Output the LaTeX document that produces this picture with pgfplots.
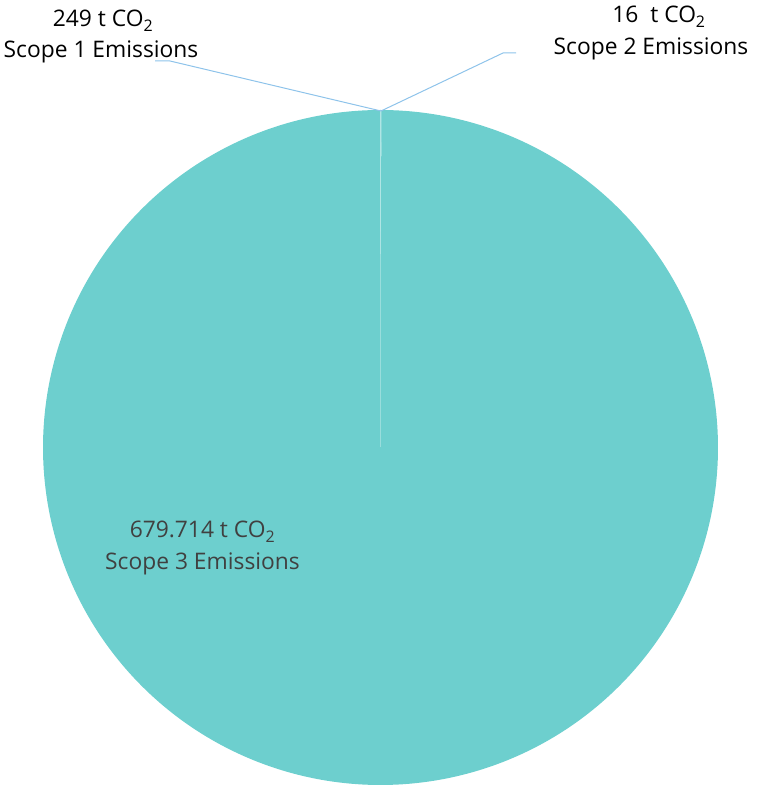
\documentclass[border=0pt]{standalone}
\usepackage{pgfplots}
\pgfplotsset{compat=1.18}
\usepackage{pgfplotstable}
\usepackage{fontspec}
\setmainfont{Open Sans}
\definecolor{piecol}{HTML}{6DCFCE}
\definecolor{leader}{HTML}{8EC3EA}
\definecolor{lbl}{HTML}{404040}

\pgfplotstableread{
scope value
1 249
2 16
3 679714
}\datatable
\pgfplotstablegetelem{0}{value}\of\datatable \let\vA\pgfplotsretval
\pgfplotstablegetelem{1}{value}\of\datatable \let\vB\pgfplotsretval
\pgfplotstablegetelem{2}{value}\of\datatable \let\vC\pgfplotsretval
\edef\aA{\fpeval{round(90-360*\vA/(\vA+\vB+\vC),5)}}
\edef\aB{\fpeval{round(\aA-360*\vB/(\vA+\vB+\vC),5)}}
\def\cx{380.5}
\def\cy{339.5}
\def\rr{337.5}

\begin{document}
\begin{tikzpicture}
\begin{axis}[
  width=756pt, height=787pt, scale only axis,
  xmin=0, xmax=756, ymin=0, ymax=787,
  hide axis, clip=false, anchor=south west, at={(0,0)},
]
% Scope 1
\addplot[fill=piecol, draw=none, domain=\aA:90, samples=5]
  ({\cx+\rr*cos(x)},{\cy+\rr*sin(x)}) -- (axis cs:\cx,\cy) -- cycle;
% Scope 2
\addplot[fill=piecol, draw=none, domain=\aB:\aA, samples=5]
  ({\cx+\rr*cos(x)},{\cy+\rr*sin(x)}) -- (axis cs:\cx,\cy) -- cycle;
% Scope 3
\addplot[fill=piecol, draw=none, domain=-270:\aB, samples=361]
  ({\cx+\rr*cos(x)},{\cy+\rr*sin(x)}) -- (axis cs:\cx,\cy) -- cycle;
% slice borders
\draw[white, opacity=0.3, line width=1pt] (axis cs:\cx,\cy) -- (axis cs:\cx,{\cy+\rr});
% leader lines
\draw[leader, line width=1pt] (axis cs:155,726) -- (axis cs:170,726) -- (axis cs:381,676);
\draw[leader, line width=1pt] (axis cs:516,734) -- (axis cs:503,734) -- (axis cs:381,676);
% labels
\node[anchor=base, font=\fontsize{22.8}{27}\selectfont, text=black] at (axis cs:103,760) {249 t CO\textsubscript{2}};
\node[anchor=base, font=\fontsize{22.8}{27}\selectfont, text=black] at (axis cs:101,729) {Scope 1 Emissions};
\node[anchor=base, font=\fontsize{22.8}{27}\selectfont, text=black] at (axis cs:659,764) {16\ \ t CO\textsubscript{2}};
\node[anchor=base, font=\fontsize{22.8}{27}\selectfont, text=black] at (axis cs:651,732) {Scope 2 Emissions};
\node[anchor=base, font=\fontsize{22.8}{27}\selectfont, text=lbl] at (axis cs:202.5,249) {679.714 t CO\textsubscript{2}};
\node[anchor=base, font=\fontsize{22.8}{27}\selectfont, text=lbl] at (axis cs:202.5,217) {Scope 3 Emissions};
\end{axis}
\pgfresetboundingbox
\path (0,0) rectangle (756pt,787pt);
\end{tikzpicture}
\end{document}
